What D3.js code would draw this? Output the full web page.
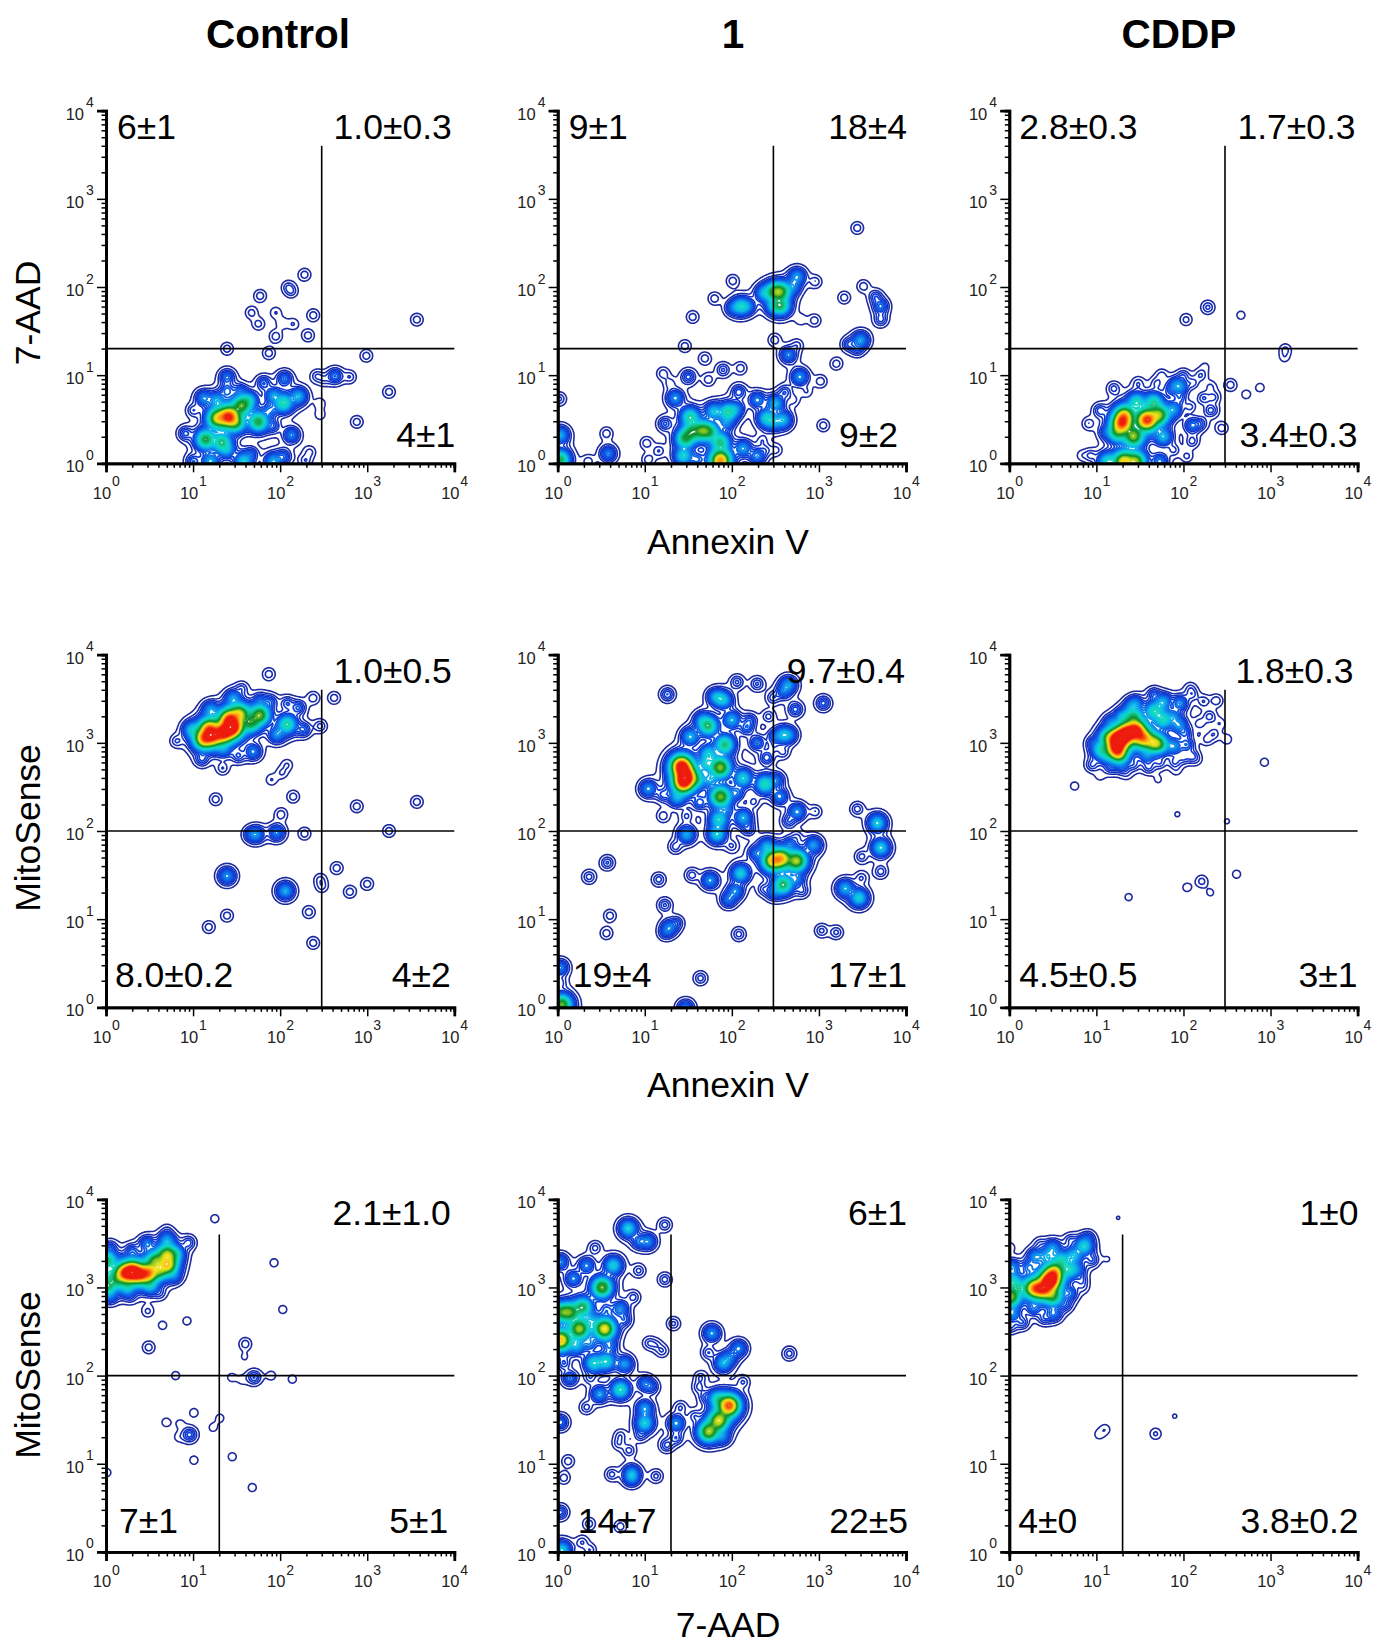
<!DOCTYPE html>
<html>
<head>
<meta charset="utf-8">
<script src="https://cdn.jsdelivr.net/npm/d3@7"></script>
<style>
	html, body { margin: 0; padding: 0; background: #fff; }
	text { font-family: "Liberation Sans", Arial, sans-serif; }
</style>
</head>
<body>
<svg id="chart" width="1373" height="1645">
	<defs><filter id="soft"><feGaussianBlur stdDeviation="0.45"/></filter></defs>
</svg>
<script>
/* Density peaks: [log10 x, log10 y, peak height] */
const controlA7 = [
	[2.28,2.14,1],[1.77,1.90,1],[2.09,2.00,.9],[2.13,1.95,.9],[1.67,1.71,.9],[1.75,1.58,.9],[1.95,1.71,.7],[2.02,1.59,.6],[2.15,1.58,.7],
	[1.95,1.44,1],[2.38,1.68,1],[2.32,1.45,1],[3.57,1.63,1],[1.39,1.30,1],[1.87,1.25,1],[2.99,1.22,1],[3.25,.81,1],[2.88,.47,1],
	[2.42,.99,1],[2.63,.99,2.5],[2.80,.98,1],[2.50,.95,.7],[2.46,.68,.6],[2.46,.55,.6],[2.34,.13,.8],[2.29,.03,1],
	[1.41,.53,14],[1.27,.51,9],[1.56,.66,8],[1.75,.47,8],[1.50,.45,5],[2.04,.68,6],[2.21,.76,4],[1.14,.27,8],[1.33,.24,6],
	[1.39,.98,2.5],[1.39,.83,2],[1.81,.91,2],[2.05,.96,2.5],[1.12,.74,3],[1.00,.60,1.2],[.91,.34,1.8],[2.13,.32,3],[1.92,.42,1.5],
	[1.88,.60,2],[1.67,.11,1.5],[1.20,.02,4],[1.58,.02,5],[1.92,.02,4],[1.39,.15,3],[1.65,.72,3],[1.92,.77,3],[1.00,.02,2],[2.04,.08,2],[1.54,.83,1.5],[1.27,.72,3]
];
const oneA7 = [
	[2.01,2.07,1],[1.80,1.87,1],[1.55,1.66,1],[1.46,1.33,1],[3.44,2.67,1],[2.96,2.06,1],[3.29,1.88,1],[2.95,1.62,1],[2.79,1.63,.6],[2.49,1.40,1],[3.20,1.13,1],[3.02,.93,1],
	[2.10,1.08,1],[3.05,.43,1],[.56,.34,1],[.02,.73,1.2],[2.35,.26,.8],[2.39,.15,.8],[2.51,.15,.8],[.35,.02,1],[.58,.11,3],[.03,.32,4],[.03,.04,8],
	[2.10,1.78,5],[2.19,1.78,2],[2.00,1.76,1.5],[2.48,1.95,6],[2.57,1.95,7],[2.36,1.93,3],[2.57,1.78,6],[2.48,1.78,3],[2.75,2.12,3.5],[2.71,2.00,2],
	[3.51,2.01,1],[3.65,1.89,1.5],[3.71,1.78,2.5],[3.71,1.63,1.5],[3.48,1.40,3.5],[3.34,1.35,1.5],[3.44,1.29,1.2],[2.65,1.23,3],[2.75,1.34,.8],[2.78,.98,3.5],[2.61,.81,1.5],[2.71,.72,.7],[2.86,.81,.6],
	[1.87,.03,14],[1.87,.24,6],[1.66,.37,7],[1.46,.28,7],[1.54,.36,5],[1.75,.36,5],[1.52,.53,6],[1.96,.58,6],[1.79,.59,4],[1.35,.74,3.5],[1.23,.45,1.8],
	[1.50,.98,2],[1.21,1.02,1],[1.73,.95,1],[1.69,1.19,1],[1.90,1.06,1.5],[2.29,.72,3],[2.08,.81,2],[2.50,.68,4],[2.40,.51,5],[2.59,.49,4],[2.48,.45,2],
	[2.13,.17,3.5],[2.29,.08,3],[1.44,.08,5],[1.60,.04,2],[1.02,.23,1],[1.16,.14,1],[1.04,.04,1],[1.94,.45,2],[2.06,.62,2],[1.29,.91,.8]
];
const cddpA7 = [
	[1.58,.49,15],[1.29,.45,12],[1.73,.55,8],[1.32,.55,9],[1.43,.30,9],[1.23,.34,5],[1.77,.30,4],[1.46,.70,5],[1.66,.70,5],[1.89,.61,3],
	[1.31,.02,11],[1.46,.02,9],[1.12,.02,5],[1.73,.02,3],[1.96,.87,3],[1.85,.83,1.2],[2.11,.91,1],[2.23,.74,1.3],[2.10,.43,2.5],[1.96,.74,1.3],[2.08,.64,1],[2.34,.60,.7],
	[2.44,.40,1],[2.25,1.10,.4],[2.31,.87,.7],[1.48,.91,.9],[1.69,.91,.9],[1.89,.15,1],[2.04,.08,.8],[.93,.09,1],[.91,.45,1],[1.04,.60,1.5],[.83,.09,.5],
	[2.20,1.00,1],[2.00,1.00,1],[1.75,1.00,.8],[1.20,.85,1.2],[2.30,.60,1],[2.35,.75,1],[2.20,.45,1.2],[2.10,.25,1.2],[1.90,.90,1.5],[1.10,.35,1.2],
	[2.28,1.77,1.2],[2.03,1.63,.9],[2.66,1.68,.55],[3.17,1.29,.8],[3.16,1.20,.5],[2.54,.89,1],[2.72,.78,.55],[2.88,.86,.55]
];
const controlAM = [
	[1.46,3.17,14],[1.35,3.11,12],[1.18,3.17,10],[1.12,3.04,11],[1.41,3.28,10],[1.54,3.34,8],[1.77,3.32,9],[1.23,3.06,8],[1.67,3.22,6],[2.08,3.21,6.5],[.98,3.15,3.5],[.81,3.02,1],
	[1.56,3.62,1],[1.46,3.51,3],[1.20,3.38,3],[1.69,2.90,3],[1.10,2.81,1.5],[1.52,2.85,1.5],[1.96,3.09,3],[2.21,3.40,2],[2.08,3.45,1.5],[1.89,3.47,1.5],[2.27,3.15,2],[2.46,3.19,1.2],[2.38,3.51,1],[1.35,2.92,2],[1.77,3.49,1.5],
	[1.87,3.78,1],[2.62,3.51,1],[1.34,2.71,1],[2.08,2.75,.7],[2.02,2.66,.7],[1.90,2.58,.7],[1.26,2.36,1],[2.15,2.39,1],[2.88,2.28,1],[3.57,2.33,1],[2.01,2.19,1],[3.25,2.00,1],[2.28,1.97,1],
	[1.73,1.96,3],[1.66,1.96,1.5],[1.96,1.98,3],[1.39,1.49,3.5],[2.06,1.32,4],[2.65,1.58,1],[2.46,1.45,.8],[2.48,1.37,.8],[2.80,1.31,1],[3.00,1.40,1],[1.39,1.04,1],[1.18,.91,1],[2.33,1.08,1],[2.38,.73,1]
];
const oneAM = [
	[2.06,3.69,1.5],[2.29,3.67,1.5],[1.26,3.55,1.8],[2.47,3.51,1.2],[2.65,3.66,3.5],[2.59,3.58,2],[2.73,3.38,2],[3.05,3.45,2],[1.85,3.51,3.5],[1.92,3.48,3],[1.79,3.53,1.5],
	[2.00,3.26,4],[2.42,3.30,1.2],[2.21,3.26,1.5],[2.17,3.17,2],[2.29,3.00,2.5],[2.40,2.83,2],[2.59,3.09,4],[2.67,3.09,2],[2.48,3.07,1.5],[2.48,2.95,.8],[2.59,2.89,1],
	[1.73,3.19,7],[1.66,3.26,2.5],[1.52,3.07,4],[1.92,2.98,7],[1.73,2.88,4],[1.42,2.74,16],[1.48,2.62,11],[1.44,2.54,12],[1.87,2.72,10],[1.70,2.76,3],[1.87,2.39,10],[1.60,2.58,3],[1.75,2.58,2.5],
	[1.04,2.48,3.5],[2.13,2.60,5],[2.38,2.53,6],[2.52,2.58,2],[2.55,2.39,3],[1.37,2.37,3],[1.21,2.41,1.5],[1.63,2.32,2],[2.25,2.33,1],[2.06,2.43,2],
	[1.85,2.13,5],[1.83,1.96,5],[2.13,2.15,4],[2.19,2.02,1.5],[1.48,1.96,4],[1.35,1.82,1.2],[2.00,1.83,1],[1.48,2.17,1],[1.21,2.17,1],[1.94,2.24,1.5],
	[2.75,2.22,3.5],[2.65,2.11,1.5],[2.96,2.22,1],[2.75,1.94,.8],[3.44,2.25,1.3],[3.67,2.09,5],[3.71,1.81,5],[3.49,1.71,1.2],[3.71,1.54,1.3],[3.49,1.47,1],[3.30,1.35,4],[3.46,1.24,5],[2.94,1.84,3.5],
	[2.46,1.66,10],[2.57,1.69,10],[2.75,1.66,10],[2.59,1.39,7.5],[2.40,1.83,3],[2.75,1.45,2],[2.81,1.32,1.2],[2.36,1.34,1],[2.67,1.86,1.5],[2.48,1.30,2],[2.27,1.75,2],
	[2.10,1.52,5],[2.04,1.32,3],[1.96,1.22,2.5],[1.75,1.44,3.5],[1.54,1.50,1.3],[.57,1.64,1.5],[.36,1.48,1.3],[1.16,1.45,1.3],[1.23,1.16,1.5],[.60,1.04,1],[.56,.84,1],[1.28,.90,3],[1.37,.96,1.2],[1.23,.84,1],
	[2.08,.83,1.3],[3.03,.87,1.2],[3.20,.85,1.2],[1.64,.33,1.3],[.03,.45,3],[.03,.28,1],[.05,.03,10],[1.47,-.01,3]
];
const cddpAM = [
	[1.25,3.04,16],[1.23,2.92,11],[1.35,3.11,12],[1.54,3.05,10],[1.46,3.15,11],[1.66,3.00,7],[1.73,2.98,5],[1.04,2.92,4],[1.12,3.07,4],[1.66,3.36,5],[1.43,3.30,5],[1.77,3.26,5],[1.27,2.85,4],[1.58,2.85,2],[1.89,2.96,3],
	[1.96,3.45,3],[1.79,3.49,1.5],[1.66,3.55,1.5],[1.89,3.30,2],[2.02,3.11,1.5],[2.04,2.98,2],[1.39,3.41,1.5],[1.16,3.24,1.5],[.95,3.00,1],[.95,2.75,1.3],[1.16,2.71,1],[1.43,2.75,1],[1.73,2.77,1],[2.00,2.83,1],
	[2.30,3.30,1.2],[2.10,3.55,1],[2.35,3.10,.9],[2.10,2.85,1.2],[1.90,2.78,1.2],[1.60,2.72,1.2],[1.30,2.72,1.2],[1.10,2.85,1.5],[1.30,3.30,2.5],[1.45,3.45,2.5],[1.75,3.45,2.5],[1.95,3.20,3],
	[2.23,3.47,1],[2.08,3.62,.7],[2.38,3.48,1],[2.19,3.22,.9],[2.42,3.22,.6],[2.50,3.04,.6],[2.27,3.04,.8],[2.15,2.81,.5],[1.92,2.68,.4],[1.71,2.58,.4],[1.35,2.64,.4],[1.04,2.62,.4],
	[2.93,2.78,.55],[.75,2.51,.55],[1.93,2.19,.42],[2.50,2.11,.42],[2.04,1.36,.55],[2.21,1.43,.9],[2.31,1.30,.45],[2.61,1.51,.55],[1.37,1.25,.5]
];
const controlM7 = [
	[.30,3.18,15],[.20,3.16,9],[.49,3.16,10],[.39,3.14,7],[.72,3.25,9],[.70,3.38,8],[.56,3.31,6],[.62,3.19,5],[.01,3.31,7],[.01,3.01,7],[.01,3.16,3],[.24,2.99,3],[.51,3.01,3],[.47,3.50,2.5],[.30,3.42,1.5],
	[.70,3.54,3],[.81,3.38,3],[.79,3.12,1.5],[.12,3.08,3],[.05,3.46,1.2],[.05,2.89,1.5],[.95,3.51,1.5],[.70,3.65,.5],[.62,2.93,.8],[.28,2.89,.7],
	[1.25,3.78,.55],[1.93,3.28,.55],[2.03,2.75,.55],[.48,2.73,.8],[.65,2.57,.55],[.93,2.62,.55],[.49,2.32,1],[1.60,2.36,1],[1.59,2.21,.4],[.80,2.00,.55],[1.70,1.98,1.8],[1.44,1.98,.5],[1.56,1.95,.4],[1.90,2.00,.55],[2.14,1.96,.55],
	[1.01,1.58,.55],[.69,1.47,.55],[.96,1.33,2],[.85,1.46,.4],[.83,1.30,.4],[1.31,1.52,.5],[1.23,1.41,.5],[1.01,1.04,.55],[1.45,1.08,.55],[1.68,.73,.55],[.01,.90,.55]
];
const oneM7 = [
	[1.23,3.71,1.3],[.81,3.67,5],[.93,3.52,2],[1.04,3.52,3],[.43,3.45,1.2],[.03,3.29,3],[.33,3.25,3],[.64,3.25,5],[.93,3.19,1.2],[.18,3.10,3],[.51,3.00,10],[1.23,3.09,1.3],
	[.29,2.78,7],[.14,2.72,7],[.03,2.72,7],[.56,2.75,1.5],[.72,2.76,3],[.87,2.89,1.2],[.25,2.53,10],[.54,2.53,12],[.03,2.40,13],[1.33,2.59,1.2],[.77,2.63,1.5],[.39,2.63,2],[.37,2.36,2],[.22,2.33,3],[.60,2.33,2],
	[.41,2.14,5],[.56,2.16,5],[.77,2.13,3.5],[.07,2.14,1.5],[.14,1.97,2.5],[.37,1.97,1],[.72,1.84,6],[.48,1.79,3.5],[1.00,1.91,2.5],[1.08,1.87,1.5],[.33,1.64,1.2],[.03,1.47,2.5],
	[1.00,1.63,3.5],[1.00,1.46,5],[.95,1.32,1],[.72,1.32,.9],[.70,1.23,.9],[.82,1.15,1.2],[1.05,2.37,1],[1.20,2.28,1],[1.13,2.35,.7],[.12,1.03,1],[.07,.84,1],[.62,.88,1.2],[.85,.89,3.5],[.85,.83,2],[1.13,.86,1.2],
	[.03,.45,2],[.36,.32,1],[.72,.29,1],[.28,.11,1],[.37,.02,1],[.05,.02,5],
	[1.77,2.48,3.5],[1.73,2.26,1.3],[2.08,2.31,3],[1.90,2.14,4],[1.98,2.21,2],[2.66,2.25,1.3],[2.13,1.93,1],[1.64,1.98,1],[1.62,1.87,1],
	[1.97,1.66,15],[1.85,1.49,10],[1.73,1.36,10],[1.83,1.74,4],[1.69,1.76,1],[1.90,1.30,2],[1.57,1.54,1],[1.41,1.64,1],[1.36,1.46,3.5],[1.36,1.29,1.5],[1.25,1.21,1.5]
];
const cddpM7 = [
	[.47,3.08,16],[.28,2.99,11],[.39,2.97,9],[.52,3.18,8],[.01,2.89,10],[.10,3.00,3],[.51,2.89,6],[.60,3.31,4],[.74,3.36,3.5],[.86,3.47,5],[.43,3.36,2.5],[.22,3.23,2],[.03,3.23,3],[.03,3.08,4],[.03,2.70,3],
	[.28,2.76,2],[.51,2.70,2.5],[.70,2.93,2],[.83,3.08,1],[.91,3.57,1],[.70,3.54,1],[.95,3.31,1.5],[.85,3.00,.6],[.01,2.55,1.2],[.01,3.46,.5],[.35,3.50,.7],
	[.50,3.45,3],[.30,3.35,3],[.70,3.20,4],[.15,2.60,1.5],[.40,2.65,1.2],[.65,2.80,1.2],[.80,3.20,1.5],
	[1.25,3.79,.38],[1.13,3.32,.36],[1.10,1.39,.6],[1.03,1.33,.5],[1.68,1.34,.8],[1.90,1.54,.4]
];

const columnTitles = ["Control", "1", "CDDP"];
const rowYTitles = ["7-AAD", "MitoSense", "MitoSense"];
const rowXTitles = ["Annexin V", "Annexin V", "7-AAD"];
const rowGates = [[300, 20], [300, 100], [20, 100]];
const gateTop = 4000;
const panelData = [
	[controlA7, oneA7, cddpA7],
	[controlAM, oneAM, cddpAM],
	[controlM7, oneM7, cddpM7]
];
/* Quadrant percentages: upper left, upper right, lower left, lower right */
const quadrantLabels = [
	[["6±1","1.0±0.3","","4±1"], ["9±1","18±4","","9±2"], ["2.8±0.3","1.7±0.3","","3.4±0.3"]],
	[["","1.0±0.5","8.0±0.2","4±2"], ["","9.7±0.4","19±4","17±1"], ["","1.8±0.3","4.5±0.5","3±1"]],
	[["","2.1±1.0","7±1","5±1"], ["","6±1","14±7","22±5"], ["","1±0","4±0","3.8±0.2"]]
];
const decades = [1, 10, 100, 1000, 10000];

/* Layout */
const columnX = [106, 557.7, 1009.3];
const rowY = [110.7, 654.7, 1199.3];
const plotW = 348.3;
const plotH = 352.6;
const titleBaseline = 48;
const xTitleBaseline = [554, 1097, 1637];
const yTitleCenter = [313, 828, 1375];
/* Right-hand ends of the right labels and left starts of the left labels, relative to the panel */
const labelRight = [
	[[-2.5, 1], [1, -8], [-2, 0]],
	[[-2.5, -3.5], [-1, 1], [-4, 0]],
	[[-3.5, -6], [1, 2], [1, 1]]
];
const labelLeft = [[11, 11, 10], [9, 15, 10], [13, 20, 9]];
const topBaseline = [28.5, 28.5, 26];
const bottomInset = [16.5, 20, 19];

/* Contour look */
const ringReach = 11.5;
const thresholds = d3.range(0.35, 34, 0.36);
const levelColor = d3.scaleLinear()
	.domain([0.35, 1.6, 3, 4.4, 6, 7.5, 9, 10.5, 12, 14, 16.5])
	.range(["#1f2a9e", "#0b39d8", "#0a78ec", "#08bcea", "#12dcc0", "#14b870", "#0c8f2c", "#8ec81e", "#f6e61a", "#ff9a12", "#ee1c10"])
	.clamp(true);

const svg = d3.select("#chart");

function densityGrid(points, x, y, w, h) {
	const grid = new Float64Array(w * h);
	points.forEach(([lx, ly, peak]) => {
		const px = x(10 ** lx);
		const py = y(10 ** ly);
		// taller peaks carry a slightly wider footprint in the source plot
		const reach = ringReach * Math.max(1, Math.pow(peak, 0.17));
		const cut = reach * 3;
		const i0 = Math.max(0, Math.floor(px - cut));
		const i1 = Math.min(w - 1, Math.ceil(px + cut));
		const j0 = Math.max(0, Math.floor(py - cut));
		const j1 = Math.min(h - 1, Math.ceil(py + cut));
		for (let j = j0; j <= j1; j++) {
			for (let i = i0; i <= i1; i++) {
				const dx = i + 0.5 - px;
				const dy = j + 0.5 - py;
				const u = (dx * dx + dy * dy) / (reach * reach);
				grid[j * w + i] += peak * Math.pow(1 + u, -4);
			}
		}
	});
	return grid;
}

function logAxis(axis, selection) {
	const minor = [];
	decades.slice(0, -1).forEach((d) => {
		d3.range(2, 10).forEach((m) => minor.push(d * m));
	});
	selection.append("g")
		.call(axis.tickValues(minor).tickSize(4.5).tickFormat(""));
	const major = selection.append("g")
		.call(axis.tickValues(decades).tickSize(9).tickFormat(""));
	selection.selectAll(".domain").attr("stroke", "#000").attr("stroke-width", 2.8);
	selection.selectAll(".tick line").attr("stroke", "#000").attr("stroke-width", 1.5);
	return major;
}

function drawPanel(r, c) {
	const g = svg.append("g")
		.attr("transform", `translate(${columnX[c]},${rowY[r]})`);
	const x = d3.scaleLog().domain([1, 1e4]).range([0, plotW]);
	const y = d3.scaleLog().domain([1, 1e4]).range([plotH, 0]);
	const w = Math.ceil(plotW);
	const h = Math.ceil(plotH);

	const clipId = `clip-${r}-${c}`;
	g.append("clipPath").attr("id", clipId)
		.append("rect").attr("width", plotW).attr("height", plotH);

	const grid = densityGrid(panelData[r][c], x, y, w, h);
	const contours = d3.contours().size([w, h]).thresholds(thresholds)(grid);
	g.append("g")
		.attr("clip-path", `url(#${clipId})`)
		.append("g")
		.attr("filter", "url(#soft)")
		.attr("fill", "none")
		.selectAll("path")
		.data(contours.filter((d) => d.coordinates.length))
		.join("path")
		.attr("d", d3.geoPath())
		.attr("stroke", (d) => levelColor(d.value))
		.attr("stroke-width", (d) => (d.value < 1.6 ? 1.6 : 1.8));

	/* gate lines */
	const [gateX, gateY] = rowGates[r];
	g.append("line")
		.attr("x1", x(gateX)).attr("x2", x(gateX))
		.attr("y1", y(gateTop)).attr("y2", plotH)
		.attr("stroke", "#000").attr("stroke-width", 1.6);
	g.append("line")
		.attr("x1", 0).attr("x2", plotW)
		.attr("y1", y(gateY)).attr("y2", y(gateY))
		.attr("stroke", "#000").attr("stroke-width", 1.6);

	/* axes */
	const xg = g.append("g").attr("transform", `translate(0,${plotH})`);
	const yg = g.append("g");
	const xMajor = logAxis(d3.axisBottom(x), xg);
	const yMajor = logAxis(d3.axisLeft(y), yg);

	xMajor.selectAll(".tick").each(function(d) {
		const t = d3.select(this);
		const exp = Math.round(Math.log10(d));
		t.append("text").attr("x", -4.5).attr("y", 35.5).attr("text-anchor", "middle")
			.attr("fill", "#222").attr("font-size", 16.5).text("10");
		t.append("text").attr("x", 5.5).attr("y", 22.7).attr("text-anchor", "start")
			.attr("fill", "#222").attr("font-size", 14).text(exp);
	});
	yMajor.selectAll(".tick").each(function(d) {
		const t = d3.select(this);
		const exp = Math.round(Math.log10(d));
		t.append("text").attr("x", -22).attr("y", 8.4).attr("text-anchor", "end")
			.attr("fill", "#222").attr("font-size", 16.5).text("10");
		t.append("text").attr("x", -20).attr("y", -4).attr("text-anchor", "start")
			.attr("fill", "#222").attr("font-size", 14).text(exp);
	});

	/* quadrant labels */
	const [ul, ur, ll, lr] = quadrantLabels[r][c];
	const label = (txt, lx, ly, anchor) => {
		if (!txt) return;
		g.append("text").attr("x", lx).attr("y", ly)
			.attr("text-anchor", anchor).attr("font-size", 35.5).attr("fill", "#000").text(txt);
	};
	const rightX = labelRight[r][c];
	label(ul, labelLeft[0][c], topBaseline[0], "start");
	label(ur, plotW + rightX[0], topBaseline[r], "end");
	label(ll, labelLeft[r][c], plotH - bottomInset[r], "start");
	label(lr, plotW + rightX[1], plotH - bottomInset[r], "end");
}

d3.range(3).forEach((r) => d3.range(3).forEach((c) => drawPanel(r, c)));

/* titles */
svg.selectAll(".col-title")
	.data(columnTitles)
	.join("text")
	.attr("class", "col-title")
	.attr("x", (d, i) => [278, 733, 1179][i])
	.attr("y", titleBaseline)
	.attr("text-anchor", "middle")
	.attr("font-size", 40.5)
	.attr("font-weight", "bold")
	.text((d) => d);

svg.selectAll(".x-title")
	.data(rowXTitles)
	.join("text")
	.attr("class", "x-title")
	.attr("x", 728)
	.attr("y", (d, i) => xTitleBaseline[i])
	.attr("text-anchor", "middle")
	.attr("font-size", 35.5)
	.text((d) => d);

svg.selectAll(".y-title")
	.data(rowYTitles)
	.join("text")
	.attr("class", "y-title")
	.attr("transform", (d, i) => `translate(40,${yTitleCenter[i]}) rotate(-90)`)
	.attr("text-anchor", "middle")
	.attr("font-size", 35.5)
	.text((d) => d);
</script>
</body>
</html>
